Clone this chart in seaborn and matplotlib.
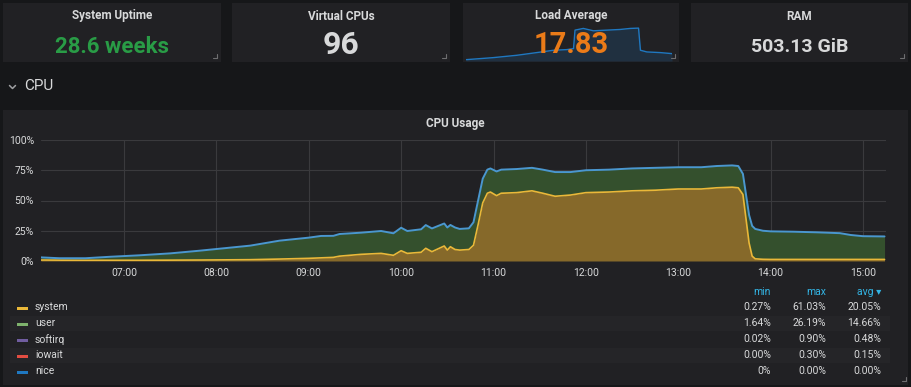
import matplotlib
matplotlib.use("Agg")
import matplotlib.pyplot as plt
import numpy as np
import pandas as pd
import seaborn as sns
from matplotlib.patches import Rectangle
from matplotlib.lines import Line2D

# ---------------- data ----------------
times = ["06:06", "06:18", "06:35", "06:51", "07:10", "07:30", "07:49", "08:00", "08:22", "08:41",
         "09:00", "09:08", "09:16", "09:20", "09:34", "09:47", "09:55", "10:00", "10:04", "10:13",
         "10:16", "10:20", "10:28", "10:30", "10:32", "10:35", "10:38", "10:44", "10:47", "10:50",
         "10:53", "10:56", "10:58", "11:02", "11:05", "11:15", "11:25", "11:32", "11:40", "11:50",
         "12:00", "12:15", "12:30", "12:45", "13:00", "13:15", "13:25", "13:35", "13:39", "13:42",
         "13:44", "13:46", "13:48", "13:50", "13:55", "14:00", "14:15", "14:30", "14:45", "14:52",
         "15:00", "15:14"]
system = [0.8, 0.7, 0.6, 0.6, 0.6, 0.7, 0.8, 0.9, 1.1, 1.6,
          2.2, 2.6, 3.0, 4.0, 5.5, 6.3, 4.7, 8.5, 6.3, 7.2,
          10.5, 7.7, 12.4, 9.0, 11.8, 9.5, 9.0, 9.5, 13.0, 30.0,
          48.0, 56.0, 57.0, 54.0, 56.0, 56.5, 58.0, 56.0, 53.5, 54.5,
          56.5, 57.0, 58.0, 58.5, 59.5, 59.5, 60.5, 61.0, 60.5, 55.0,
          35.0, 15.0, 4.0, 1.8, 1.4, 1.3, 1.3, 1.3, 1.3, 1.3,
          1.3, 1.3]
user = [2.2, 1.6, 1.7, 2.9, 4.1, 5.6, 7.7, 9.0, 11.6, 15.2,
        17.1, 18.1, 17.8, 18.3, 17.9, 18.5, 18.2, 19.0, 18.5, 19.0,
        19.2, 19.2, 18.6, 18.7, 18.0, 18.2, 17.5, 17.5, 19.0, 20.0,
        20.0, 19.5, 19.5, 20.0, 19.5, 19.5, 19.0, 19.5, 20.0, 19.0,
        18.5, 18.5, 18.5, 18.5, 18.0, 18.0, 18.0, 18.0, 18.0, 17.0,
        20.0, 23.0, 25.0, 24.7, 23.6, 23.2, 22.9, 22.4, 21.7, 20.2,
        19.2, 19.0]

load_times = ["06:06", "07:18", "08:21", "09:14", "09:59", "10:34", "10:52", "10:56", "11:18",
              "11:45", "12:21", "12:56", "13:23", "13:45", "13:50", "14:07", "14:43", "15:14"]
load_values = [3.2, 8.1, 13.8, 20.3, 26.0, 27.5, 30.0, 74.6, 78.7,
               73.0, 74.6, 76.2, 78.7, 79.5, 26.0, 21.9, 20.3, 17.8]

stat_titles = ["System Uptime", "Virtual CPUs", "Load Average", "RAM"]
stat_values = ["28.6 weeks", "96", "17.83", "503.13 GiB"]

x_tick_labels = ["07:00", "08:00", "09:00", "10:00", "11:00", "12:00", "13:00", "14:00", "15:00"]
y_ticks = [0, 25, 50, 75, 100]

legend_names = ["system", "user", "softirq", "iowait", "nice"]
legend_min = ["0.27%", "1.64%", "0.02%", "0.00%", "0%"]
legend_max = ["61.03%", "26.19%", "0.90%", "0.30%", "0.00%"]
legend_avg = ["20.05%", "14.66%", "0.48%", "0.15%", "0.00%"]

# ---------------- style ----------------
W, H = 911, 387
BG = "#161719"
PANEL = "#212124"
TXT = "#d8d9da"
GRID = "#3a3a3d"
series_colors = ["#EAB839", "#7EB26D", "#705DA0", "#E24D42", "#1F78C1"]

sns.set_style("dark")
plt.rcParams["font.family"] = ["Roboto", "DejaVu Sans"]


def hours(s):
    h, m = s.split(":")
    return int(h) + int(m) / 60.0


def fx(x):
    return x / W


def fy(y):
    return 1 - y / H


fig = plt.figure(figsize=(W / 100, H / 100), dpi=100)
fig.patch.set_facecolor(BG)


def panel(x0, y0, x1, y1):
    fig.patches.append(Rectangle((fx(x0), fy(y1)), (x1 - x0) / W, (y1 - y0) / H,
                                 transform=fig.transFigure, facecolor=PANEL,
                                 edgecolor="none", zorder=-10))


def corner(xr, yb):
    fig.lines.append(Line2D([fx(xr - 4), fx(xr), fx(xr)], [fy(yb), fy(yb), fy(yb - 4)],
                            transform=fig.transFigure, color="#6e6e70", lw=0.8))


def ftext(x, y, s, **kw):
    fig.text(fx(x), fy(y), s, **kw)


# ---------------- stat panels ----------------
stat_boxes = [(3, 221), (232, 450), (463, 679), (691, 908)]
stat_colors = ["#299c46", TXT, "#EB7B18", TXT]
stat_sizes = [16, 23, 21, 14]
stat_y = [47, 45, 45, 47]
for (x0, x1), t, v, c, s, vy in zip(stat_boxes, stat_titles, stat_values, stat_colors, stat_sizes, stat_y):
    panel(x0, 3, x1, 62)
    cx = (x0 + x1) / 2
    ftext(cx, 16, t, ha="center", va="center", color=TXT, fontsize=8.5, fontweight="bold")
    ftext(cx, vy, v, ha="center", va="center", color=c, fontsize=s,
          fontweight="bold", zorder=5)
    corner(x1 - 4, 58)

# sparkline in Load Average
lt = [hours(s) for s in load_times]
sax = fig.add_axes([fx(466), fy(61), (672 - 466) / W, 36 / H])
sax.set_facecolor("none")
sax.fill_between(lt, 0, load_values, color="#1F78C1", alpha=0.18, lw=0)
sns.lineplot(x=lt, y=load_values, ax=sax, color="#1F78C1", lw=1.0)
sax.set_xlim(lt[0], lt[-1])
sax.set_ylim(0, 87)
sax.axis("off")

# ---------------- row header ----------------
fig.lines.append(Line2D([fx(9.5), fx(12.5), fx(15.5)], [fy(85.5), fy(88.5), fy(85.5)],
                        transform=fig.transFigure, color="#9fa0a2", lw=1.1))
ftext(24, 86, "CPU", ha="left", va="center", color=TXT, fontsize=11)

# ---------------- main panel ----------------
panel(3, 110, 908, 385)
corner(906, 381)
ftext(455, 123, "CPU Usage", ha="center", va="center", color=TXT, fontsize=8.5, fontweight="bold")

df = pd.DataFrame({"t": [hours(s) for s in times], "system": system, "user": user})
df["stack_user"] = df["system"] + df["user"]

t_left = 7 - (124 - 41) / 92.375
t_right = 15 + (886 - 863) / 92.375
ax = fig.add_axes([fx(41), fy(261), (886 - 41) / W, (261 - 140) / H])
ax.set_facecolor("none")
ax.fill_between(df["t"], 0, df["system"], color="#86692a", lw=0, zorder=2)
ax.fill_between(df["t"], df["system"], df["stack_user"], color="#34502d", lw=0, zorder=2)
sns.lineplot(data=df, x="t", y="system", ax=ax, color="#EAB839", lw=1.2, zorder=3)
sns.lineplot(data=df, x="t", y="stack_user", ax=ax, color="#4a97cf", lw=1.4, zorder=3)
ax.set_xlim(t_left, t_right)
ax.set_ylim(0, 100)
ax.set_xticks([hours(s) for s in x_tick_labels])
ax.set_xticklabels(x_tick_labels)
ax.set_yticks(y_ticks)
ax.set_yticklabels([f"{v}%" for v in y_ticks])
ax.tick_params(axis="both", length=0, colors=TXT, labelsize=7.5)
ax.tick_params(axis="x", pad=5)
ax.tick_params(axis="y", pad=5)
ax.grid(True, color=GRID, lw=0.8, zorder=1)
ax.set_axisbelow(True)
for sp in ax.spines.values():
    sp.set_visible(False)
ax.set_xlabel("")
ax.set_ylabel("")

# ---------------- legend table ----------------
row_y = [307.5, 323.5, 339.5, 355.5, 371.5]
for i, y in enumerate(row_y):
    if i % 2 == 1:
        fig.patches.append(Rectangle((fx(10), fy(y + 7.5)), (890 - 10) / W, 15 / H,
                                     transform=fig.transFigure, facecolor="#252528",
                                     edgecolor="none", zorder=-5))
HB = "#33b5e5"
ftext(771, 292, "min", ha="right", va="center", color=HB, fontsize=7.5)
ftext(826, 292, "max", ha="right", va="center", color=HB, fontsize=7.5)
ftext(881, 292, "avg \u25be", ha="right", va="center", color=HB, fontsize=7.5)
for name, c, mn, mx, av, y in zip(legend_names, series_colors, legend_min, legend_max, legend_avg, row_y):
    fig.patches.append(Rectangle((fx(17), fy(y + 2.5)), 11 / W, 3 / H,
                                 transform=fig.transFigure, facecolor=c, edgecolor="none"))
    ftext(35, y, name, ha="left", va="center", color=TXT, fontsize=7.5)
    ftext(771, y, mn, ha="right", va="center", color=TXT, fontsize=7.5)
    ftext(826, y, mx, ha="right", va="center", color=TXT, fontsize=7.5)
    ftext(881, y, av, ha="right", va="center", color=TXT, fontsize=7.5)

fig.savefig("out.png", dpi=100, facecolor=BG)
